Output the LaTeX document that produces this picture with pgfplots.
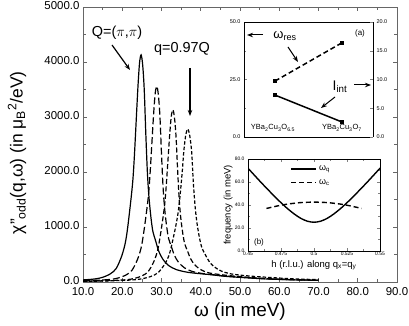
\documentclass[border=0pt]{standalone}
\usepackage{fontspec}
\setmainfont{Liberation Sans}
\usepackage{pgfplots}
\pgfplotsset{compat=1.18}
\usetikzlibrary{arrows.meta}

\tikzset{arr/.style={-{Stealth[length=6bp,width=4.5bp]}, line width=1.2bp}}

\begin{document}
\begin{tikzpicture}
\useasboundingbox (0,0) rectangle (409bp,326bp);

% main panel
\begin{axis}[
  at={(83bp,44bp)}, anchor=south west,
  scale only axis, width=314bp, height=275bp,
  xmin=10, xmax=90, ymin=0, ymax=5000,
  xtick={10,20,...,90}, xticklabels={10.0,20.0,30.0,40.0,50.0,60.0,70.0,80.0,90.0},
  ytick={0,1000,...,5000}, yticklabels={0.0,1000.0,2000.0,3000.0,4000.0,5000.0},
  minor x tick num=1, minor y tick num=1,
  tick align=inside, major tick length=4bp, minor tick length=2.5bp,
  axis line style={black!60, line width=0.6bp},
  every tick/.style={black!60, line width=0.6bp},
  tick label style={font=\fontsize{11.5}{13}\selectfont, text=black},
  xticklabel style={yshift=-1.5bp},
  yticklabel style={yshift=1bp},
  xlabel={ω (in meV)},
  xlabel style={font=\fontsize{19}{21}\selectfont, at={(axis description cs:0.5,-0.075)}, anchor=north, inner sep=0pt},
  ylabel={χ''\textsubscript{odd}(q,ω) (in μ\textsubscript{B}\textsuperscript{2}/eV)},
  ylabel style={font=\fontsize{17.5}{20}\selectfont, at={(axis description cs:-0.21,0.47)}, anchor=center, inner sep=0pt},
]
% Q=(pi,pi)
\addplot[black, line width=1.2bp, smooth] coordinates {
(10,38)(13,55)(15,85)(17,150)(18.5,250)(19.9,480)(20.8,720)(21.4,1000)(22.2,1490)
(22.7,1850)(23.1,2300)(23.6,3000)(24.0,3550)(24.4,3980)(24.8,4130)(25.2,3950)
(25.6,3500)(26.0,2700)(26.4,2000)(26.8,1550)(27.3,1180)(27.8,920)(28.5,750)
(29.3,560)(30.3,420)(31.8,300)(33.8,225)(36.8,175)(40.8,145)(43,130)(46.8,100)
(55,62)(62,42)(70,30)};
% second q
\addplot[black, line width=1.2bp, smooth, dash pattern=on 7bp off 3bp] coordinates {
(10,22)(14.0,33)(17.0,47)(19.0,73)(21.0,129)(22.5,215)(23.9,413)(24.8,619)(25.4,862)
(26.2,1285)(26.7,1595)(27.1,1983)(27.6,2585)(28.0,3062)(28.4,3432)(28.8,3560)
(29.2,3403)(29.6,3015)(30.0,2328)(30.4,1723)(30.8,1335)(31.3,1018)(31.8,794)
(32.5,648)(33.3,484)(34.3,363)(35.8,260)(37.8,192)(40.8,150)(42.8,135)(46.8,105)
(55,65)(62,44)(70,32)};
% third q
\addplot[black, line width=1.2bp, smooth, dash pattern=on 5bp off 2.5bp] coordinates {
(10,14)(14.1,20)(18.1,29)(21.1,42)(23.1,64)(25.1,114)(26.6,189)(28.0,363)(28.9,545)
(29.5,757)(30.3,1130)(30.8,1402)(31.2,1743)(31.7,2272)(32.1,2692)(32.5,3017)
(32.9,3130)(33.3,2992)(33.7,2651)(34.1,2047)(34.5,1515)(34.9,1174)(35.4,895)
(35.9,698)(36.6,570)(37.4,426)(38.4,319)(39.9,228)(41.9,169)(44.9,135)(48.9,105)
(55,70)(62,46)(70,33)};
% q=0.97Q
\addplot[black, line width=1.2bp, smooth, dash pattern=on 3.5bp off 2bp] coordinates {
(10,12)(14.1,15)(18.9,26)(22.5,37)(24.9,57)(27.3,101)(29.1,168)(30.8,322)(31.9,484)
(32.6,673)(33.6,1004)(34.2,1245)(34.7,1548)(35.3,2018)(35.7,2391)(36.2,2680)
(36.7,2780)(37.2,2658)(37.7,2355)(38.1,1818)(38.6,1346)(39.1,1043)(39.7,795)
(40.3,620)(41.1,506)(42.1,378)(43.3,284)(45.1,203)(47.5,150)(51.1,117)
(56,90)(63,60)(70,42)};
\end{axis}

% inset (a), left scale
\begin{axis}[
  at={(244bp,189bp)}, anchor=south west,
  scale only axis, width=129bp, height=115bp,
  xmin=0.54, xmax=2.46, ymin=0, ymax=50,
  axis y line*=left, xtick=\empty,
  ytick={0,25,50}, yticklabels={0.0,25.0,50.0}, minor y tick num=1,
  tick align=inside, major tick length=3bp, minor tick length=2bp,
  tick label style={font=\fontsize{5.5}{6}\selectfont},
  axis line style={line width=0.6bp},
]
\addplot[black, line width=1.5bp, dash pattern=on 5bp off 3bp,
  mark=square*, mark size=1.3bp, mark options={solid}] coordinates {(1,24.3)(2,41.0)};
\end{axis}
% inset (a), right scale
\begin{axis}[
  at={(244bp,189bp)}, anchor=south west,
  scale only axis, width=129bp, height=115bp,
  xmin=0.54, xmax=2.46, ymin=0, ymax=20,
  axis y line*=right, axis x line=none,
  ytick={0,5,...,20}, yticklabels={0.0,5.0,10.0,15.0,20.0},
  tick align=inside, major tick length=3bp,
  tick label style={font=\fontsize{5.5}{6}\selectfont},
  axis line style={line width=0.6bp},
]
\addplot[black, line width=1.5bp, mark=square*, mark size=1.3bp] coordinates {(1,7.3)(2,2.6)};
\end{axis}

% inset (b)
\begin{axis}[
  at={(248bp,75bp)}, anchor=south west,
  scale only axis, width=132bp, height=92bp,
  xmin=0.45, xmax=0.55, ymin=0, ymax=80,
  xtick={0.45,0.475,0.5,0.525,0.55}, xticklabels={0.45,0.475,0.5,0.525,0.55},
  ytick={0,20,40,60,80}, yticklabels={0.0,20.0,40.0,60.0,80.0},
  minor x tick num=1, minor y tick num=1,
  tick align=inside, major tick length=3bp, minor tick length=2bp,
  tick label style={font=\fontsize{5}{6}\selectfont},
  xticklabel style={inner sep=1pt},
  axis line style={line width=0.6bp},
  xlabel={h (r.l.u.) along q\textsubscript{x}=q\textsubscript{y}},
  xlabel style={font=\fontsize{9.5}{11}\selectfont, at={(axis description cs:0.5,-0.105)}, anchor=north, inner sep=0pt},
  ylabel={frequency (in meV)},
  ylabel style={font=\fontsize{9.5}{11}\selectfont, at={(axis description cs:-0.15,0.5)}, anchor=center, inner sep=0pt},
  legend style={draw=none, fill=none, at={(0.3,0.97)}, anchor=north west,
    font=\fontsize{9}{10}\selectfont, row sep=3bp},
  legend image code/.code={\draw[#1] (0bp,0bp) -- (25bp,0bp);},
  legend cell align=left,
]
\addplot[black, line width=1.4bp, smooth] coordinates {
(0.45,72.0)(0.455,65.7)(0.46,59.5)(0.465,53.5)(0.47,47.6)(0.475,42.0)(0.48,36.8)
(0.485,32.2)(0.49,28.4)(0.495,25.9)(0.5,25.0)(0.505,25.9)(0.51,28.4)(0.515,32.2)
(0.52,36.8)(0.525,42.0)(0.53,47.6)(0.535,53.5)(0.54,59.5)(0.545,65.7)(0.55,72.0)};
\addlegendentry{ω\textsubscript{q}}
\addplot[black, line width=1.4bp, smooth, dash pattern=on 5bp off 3bp] coordinates {
(0.464,37.0)(0.47,38.6)(0.475,39.8)(0.48,40.8)(0.485,41.5)(0.49,42.1)(0.5,42.5)
(0.51,42.1)(0.515,41.5)(0.52,40.8)(0.525,39.8)(0.53,38.6)(0.536,37.0)};
\addlegendentry{ω\textsubscript{c}}
\end{axis}

% annotations, main panel
\node[font=\fontsize{14.5}{16}\selectfont] at (117bp,293bp) {Q=($\pi$,$\pi$)};
\draw[arr] (112bp,281bp) -- (130bp,256bp);
\node[font=\fontsize{14.5}{16}\selectfont] at (182bp,277bp) {q=0.97Q};
\draw[arr] (190bp,258bp) -- (190bp,210bp);

% annotations, inset (a)
\node[font=\fontsize{13}{15}\selectfont] at (285bp,290bp) {ω\textsubscript{res}};
\draw[arr, line width=1bp] (263bp,291bp) -- (247bp,291bp);
\draw[arr, line width=1bp] (288bp,279bp) -- (298bp,264bp);
\node[font=\fontsize{8}{9}\selectfont] at (360bp,293bp) {(a)};
\node[font=\fontsize{14}{16}\selectfont] at (340bp,239bp) {I\textsubscript{int}};
\draw[arr, line width=1bp] (354bp,241bp) -- (371bp,241bp);
\draw[arr, line width=1bp] (335bp,229bp) -- (321bp,218bp);
\node[font=\fontsize{7.5}{8}\selectfont] at (273bp,198bp) {YBa\textsubscript{2}Cu\textsubscript{3}O\textsubscript{6.5}};
\node[font=\fontsize{7.5}{8}\selectfont] at (342bp,198bp) {YBa\textsubscript{2}Cu\textsubscript{3}O\textsubscript{7}};

% annotation, inset (b)
\node[font=\fontsize{8}{9}\selectfont] at (259bp,84bp) {(b)};
\end{tikzpicture}
\end{document}
